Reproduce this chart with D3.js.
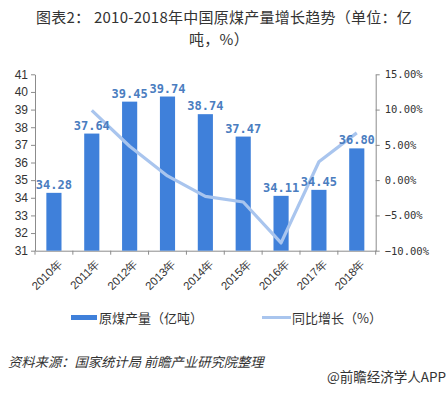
<!DOCTYPE html>
<html>
<head>
<meta charset="utf-8">
<script src="https://cdn.jsdelivr.net/npm/d3@7"></script>
<style>
  body { margin: 0; background: #fff; }
  svg { display: block; font-family: "Noto Sans CJK SC", "Liberation Sans", sans-serif; }
</style>
</head>
<body>
<div id="chart"></div>
<script>
// chart values
const years = ["2010年", "2011年", "2012年", "2013年", "2014年", "2015年", "2016年", "2017年", "2018年"];
const output = [34.28, 37.64, 39.45, 39.74, 38.74, 37.47, 34.11, 34.45, 36.80];
const growth = [null, 9.9, 4.8, 0.6, -2.3, -3.1, -8.9, 2.6, 6.7];
const leftTicks = [31, 32, 33, 34, 35, 36, 37, 38, 39, 40, 41];
const rightTicks = [-10, -5, 0, 5, 10, 15];
const titleLines = ["图表2：  2010-2018年中国原煤产量增长趋势（单位：亿", "吨，%）"];

const W = 448, H = 393;
const plot = {left: 35, right: 375.7, top: 74.3, bottom: 250.7};
const barColor = "#3f80da",
      lineColor = "#a9c5ee",
      labelColor = "#4a7dbf",
      axisColor = "#8c8c8c",
      textColor = "#333";

const svg = d3.select("#chart").append("svg")
    .attr("width", W)
    .attr("height", H);

// title, wrapped on two lines like the original
svg.append("g").selectAll("text")
    .data(titleLines)
    .join("text")
    .attr("x", (d, i) => i ? 219 : 224)
    .attr("y", (d, i) => 22.5 + i * 22)
    .attr("text-anchor", "middle")
    .attr("fill", textColor)
    .style("font-size", "15px")
    .style("letter-spacing", "0.25px")
    .text(d => d);

// scales
const x = d3.scaleBand()
    .domain(years)
    .range([plot.left, plot.right])
    .paddingInner(0.6)
    .paddingOuter(0.3);

const yL = d3.scaleLinear().domain([31, 41]).range([plot.bottom, plot.top]);
const yR = d3.scaleLinear().domain([-10, 15]).range([plot.bottom, plot.top]);

// left axis
const axL = svg.append("g")
    .attr("transform", "translate(" + plot.left + ",0)")
    .call(d3.axisLeft(yL).tickValues(leftTicks).tickSize(4).tickSizeOuter(0).tickFormat(d3.format("d")));
axL.selectAll("text")
    .attr("fill", textColor)
    .attr("x", -7)
    .style("font-family", "'Liberation Sans', Arial, sans-serif")
    .style("font-size", "12px");

// right axis
const axR = svg.append("g")
    .attr("transform", "translate(" + plot.right + ",0)")
    .call(d3.axisRight(yR).tickValues(rightTicks).tickSize(4).tickSizeOuter(0).tickFormat(d => d3.format(".2f")(d) + "%"));
axR.selectAll("text")
    .attr("fill", textColor)
    .attr("x", 9)
    .style("font-family", "'DejaVu Sans Mono', monospace")
    .style("font-size", "10.5px");

// bottom axis
const axB = svg.append("g")
    .attr("transform", "translate(0," + plot.bottom + ")")
    .call(d3.axisBottom(x).tickSize(0).tickSizeOuter(0));
axB.selectAll("text")
    .attr("fill", textColor)
    .attr("text-anchor", "end")
    .attr("transform", "rotate(-45)")
    .attr("dx", "-0.2em")
    .attr("dy", "0.7em")
    .style("font-size", "11.5px");
axB.selectAll(".tick").attr("transform", d => "translate(" + (x(d) + x.bandwidth() / 2 + 3) + ",4)");

// category boundary ticks
svg.append("g").selectAll("line")
    .data(d3.range(years.length + 1))
    .join("line")
    .attr("x1", i => plot.left + i * x.step())
    .attr("x2", i => plot.left + i * x.step())
    .attr("y1", plot.bottom)
    .attr("y2", plot.bottom + 4)
    .attr("stroke", axisColor);

svg.selectAll(".domain, .tick line").attr("stroke", axisColor);

// bars
const barData = years.map((y, i) => ({year: y, v: output[i]}));
svg.append("g").selectAll("rect")
    .data(barData)
    .join("rect")
    .attr("x", d => x(d.year))
    .attr("width", x.bandwidth())
    .attr("y", d => yL(d.v))
    .attr("height", d => plot.bottom - yL(d.v))
    .attr("fill", barColor);

// growth line
const lineData = years.map((y, i) => ({year: y, v: growth[i]}));
const line = d3.line()
    .defined(d => d.v !== null)
    .x(d => x(d.year) + x.bandwidth() / 2)
    .y(d => yR(d.v));

svg.append("path")
    .datum(lineData)
    .attr("d", line)
    .attr("fill", "none")
    .attr("stroke", lineColor)
    .attr("stroke-width", 3.2)
    .attr("stroke-linejoin", "round");

// bar value labels
svg.append("g").selectAll("text")
    .data(barData)
    .join("text")
    .attr("x", d => x(d.year) + x.bandwidth() / 2)
    .attr("y", d => yL(d.v) - 4)
    .attr("text-anchor", "middle")
    .attr("fill", labelColor)
    .style("font-family", "'DejaVu Sans Mono', monospace")
    .style("font-weight", "bold")
    .style("font-size", "12px")
    .text(d => d3.format(".2f")(d.v));

// legend
const legend = svg.append("g").style("font-size", "13px").attr("fill", textColor);
legend.append("rect")
    .attr("x", 71).attr("y", 315).attr("width", 26).attr("height", 5)
    .attr("fill", barColor);
legend.append("text").attr("x", 99).attr("y", 322.5).text("原煤产量（亿吨）");
legend.append("line")
    .attr("x1", 262).attr("x2", 291).attr("y1", 317.5).attr("y2", 317.5)
    .attr("stroke", lineColor).attr("stroke-width", 3);
legend.append("text").attr("x", 292).attr("y", 322.5).text("同比增长（%）");

// source + credit
svg.append("text")
    .attr("x", 8).attr("y", 367)
    .attr("fill", textColor)
    .style("font-size", "13.3px")
    .style("font-style", "italic")
    .text("资料来源：国家统计局 前瞻产业研究院整理");

svg.append("text")
    .attr("x", 446).attr("y", 382)
    .attr("text-anchor", "end")
    .attr("fill", textColor)
    .style("font-size", "13.5px")
    .text("@前瞻经济学人APP");
</script>
</body>
</html>
